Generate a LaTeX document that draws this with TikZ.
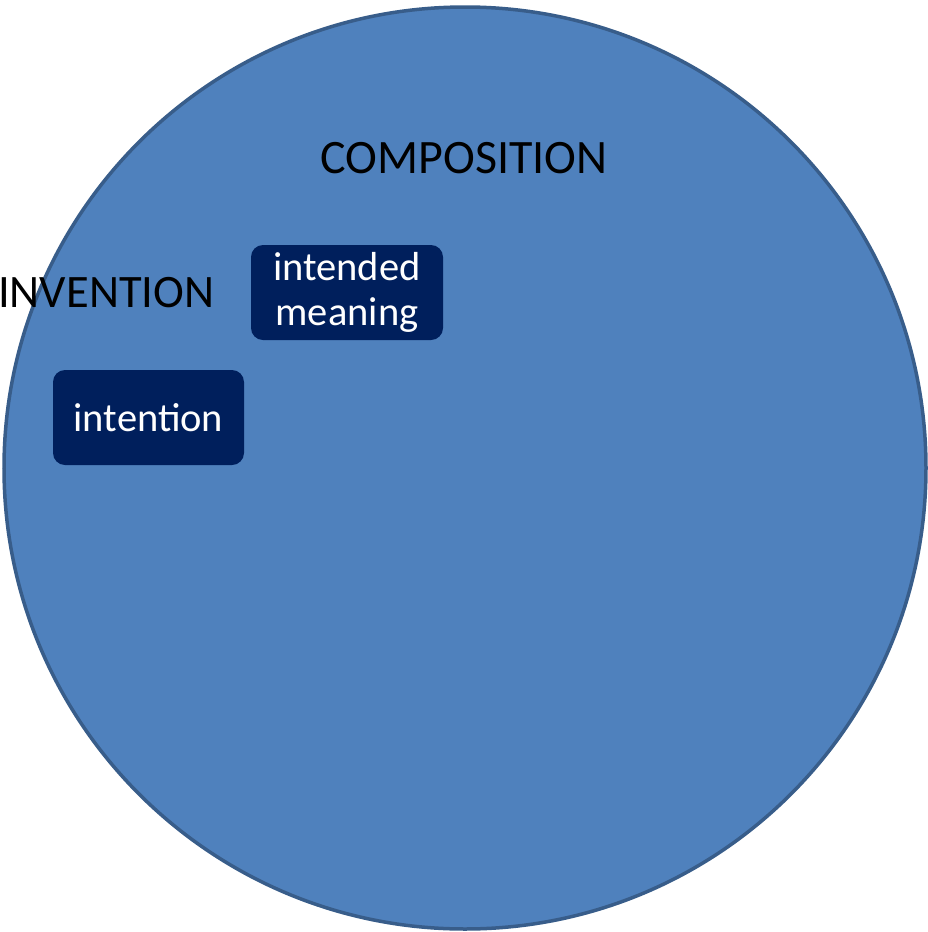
\documentclass[tikz,border=0pt]{standalone}
\usepackage{fontspec}
\setmainfont{Carlito}
\definecolor{discfill}{HTML}{4F81BD}
\definecolor{discline}{HTML}{385D8A}
\definecolor{boxfill}{HTML}{001F5C}
\begin{document}
\begin{tikzpicture}[x=1pt,y=-1pt,
  termbox/.style={fill=boxfill, rounded corners=12pt, text=white, align=center,
    inner sep=0pt, font=\fontsize{40.5}{45}\selectfont},
  heading/.style={text=black, inner sep=0pt, font=\fontsize{48}{58}\selectfont}]
  \useasboundingbox (0,0) rectangle (928,932);
  % the composition disc
  \draw[draw=discline, line width=3.5pt, fill=discfill] (465,468) ellipse [x radius=461, y radius=461];
  % labels and term boxes
  \node[heading] (comp) at (464,158) {COMPOSITION};
  \node[heading, anchor=west, font=\fontsize{46.5}{56}\selectfont] (inv) at (-2,293) {INVENTION};
  \node[termbox, minimum width=192pt, minimum height=95pt] (meaning) at (347,292.5) {intended\\meaning};
  \node[termbox, minimum width=191pt, minimum height=95pt] (intent) at (148.5,417.5) {intention};
\end{tikzpicture}
\end{document}
